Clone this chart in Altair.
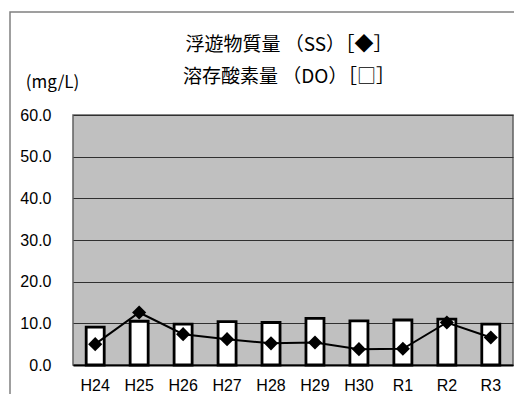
import altair as alt
import pandas as pd

years = ["H24", "H25", "H26", "H27", "H28", "H29", "H30", "R1", "R2", "R3"]
do_vals = [9.1, 10.5, 9.8, 10.4, 10.2, 11.2, 10.6, 10.8, 11.0, 9.8]
ss_vals = [5.0, 12.6, 7.4, 6.2, 5.2, 5.4, 3.8, 3.9, 10.2, 6.6]
title_lines = ["浮遊物質量 （SS）［◆］", "溶存酸素量 （DO）［□］"]
unit_label = "(mg/L)"

df = pd.DataFrame({"year": years, "DO": do_vals, "SS": ss_vals})
one = pd.DataFrame({"k": [0]})

label_font = "Liberation Sans"
cjk_font = "Noto Sans CJK JP"

x_enc = alt.X("year:N", sort=years, title=None,
              scale=alt.Scale(paddingInner=0.59, paddingOuter=0.3),
              axis=alt.Axis(labelAngle=0, labelFont=label_font, labelFontSize=16,
                            labelColor="black", labelPadding=12, ticks=False,
                            domain=True, domainColor="black", domainWidth=2,
                            grid=False))

y_scale = alt.Scale(domain=[0, 60], nice=False)
y_axis = alt.Axis(values=[0, 10, 20, 30, 40, 50, 60], format=".1f",
                  labelFont=label_font, labelFontSize=16, labelColor="black",
                  labelPadding=22, ticks=False, domain=False,
                  grid=True, gridColor="#303030", gridWidth=1,
                  title=unit_label, titleAngle=0, titleFont=cjk_font,
                  titleFontSize=17, titleFontWeight="normal", titleColor="black",
                  titleAlign="center", titleBaseline="middle",
                  titleX=-21, titleY=-33)

bars = alt.Chart(df).mark_bar(fill="white", stroke="black", strokeWidth=2.8).encode(
    x=x_enc,
    y=alt.Y("DO:Q", scale=y_scale, axis=y_axis),
)

line = alt.Chart(df).mark_line(color="black", strokeWidth=2).encode(
    x=alt.X("year:N", sort=years),
    y=alt.Y("SS:Q", scale=y_scale),
)

points = alt.Chart(df).mark_point(shape="diamond", filled=True, color="black",
                                  size=200, opacity=1).encode(
    x=alt.X("year:N", sort=years),
    y=alt.Y("SS:Q", scale=y_scale),
)

frame = alt.Chart(one).mark_rect(fill="transparent", stroke="#808080", strokeWidth=1.5).encode(
    x=alt.value(-63), x2=alt.value(600), y=alt.value(-103), y2=alt.value(500)
)

title1 = alt.Chart(one).mark_text(font=cjk_font, fontSize=19, color="black",
                                  align="center", baseline="middle").encode(
    x=alt.value(216), y=alt.value(-70), text=alt.value(title_lines[0])
)
title2 = alt.Chart(one).mark_text(font=cjk_font, fontSize=19, color="black",
                                  align="center", baseline="middle").encode(
    x=alt.value(216), y=alt.value(-38), text=alt.value(title_lines[1])
)

chart = alt.layer(frame, bars, line, points, title1, title2).properties(
    width=440, height=250,
    padding={"left": 65, "top": 107, "right": 1, "bottom": 29},
    autosize=alt.AutoSizeParams(type="none"),
).configure_view(
    fill="#c0c0c0", stroke="#606060", strokeWidth=1.5
)

chart.save("out.html", embed_options={"renderer": "svg", "actions": False})
